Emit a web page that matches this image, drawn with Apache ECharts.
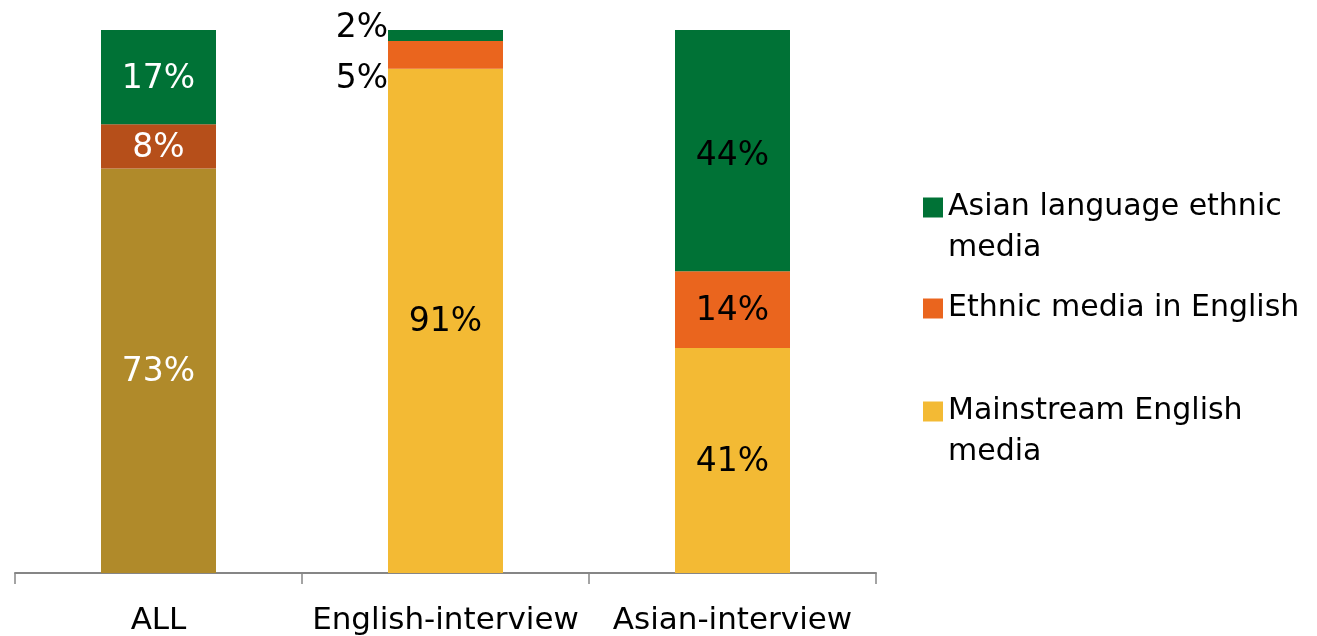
<!DOCTYPE html>
<html>
<head>
<meta charset="utf-8">
<script src="https://cdn.jsdelivr.net/npm/echarts@6/dist/echarts.min.js"></script>
<style>html,body{margin:0;padding:0;background:#fff}#c{width:1317px;height:636px}</style>
</head>
<body>
<div id="c"></div>
<script>
const categories = ['ALL', 'English-interview', 'Asian-interview'];
const mainstream = [73, 91, 41];
const ethnicEnglish = [8, 5, 14];
const asianLanguage = [17, 2, 44];
const seriesNames = ['Asian language ethnic media', 'Ethnic media in English', 'Mainstream English media'];

const FONT = 'DejaVu Sans';
const totals = categories.map((_, i) => mainstream[i] + ethnicEnglish[i] + asianLanguage[i]);
const share = (arr) => arr.map((v, i) => v / totals[i] * 100);

const colors = { green: '#007236', orange: '#EA651E', yellow: '#F3BA34' };
const allColors = { green: '#007236', orange: '#B64F1A', yellow: '#B08A2A' };

function build(raw, key, extra) {
  const s = share(raw);
  return s.map((v, i) => {
    const item = {
      value: v, raw: raw[i],
      itemStyle: { color: i === 0 ? allColors[key] : colors[key] },
      label: { color: i === 0 ? '#fff' : '#000' }
    };
    if (extra && extra[i]) Object.assign(item.label, extra[i]);
    return item;
  });
}

const labelBase = {
  show: true, position: 'inside', fontFamily: FONT, fontSize: 33, offset: [0, 2],
  formatter: p => p.data.raw + '%'
};

const chart = echarts.init(document.getElementById('c'), null, { renderer: 'canvas' });
const barW = 115;
const legendText = { fontFamily: FONT, fontSize: 30, color: '#000', lineHeight: 41 };
const legendCommon = { left: 923, padding: 0, orient: 'vertical', icon: 'rect', itemWidth: 20, itemHeight: 20, itemGap: 10, textStyle: legendText };
chart.setOption({
  animation: false,
  grid: { left: 15, right: 441, top: 30, bottom: 63 },
  xAxis: {
    type: 'category', data: categories,
    axisLine: { lineStyle: { color: '#868686', width: 2 } },
    axisTick: { show: true, interval: 0, length: 11, lineStyle: { color: '#868686', width: 1.5 } },
    axisLabel: { interval: 0, fontFamily: FONT, fontSize: 31, color: '#000', margin: 32 }
  },
  yAxis: { type: 'value', min: 0, max: 100, show: false, splitLine: { show: false } },
  legend: [
    Object.assign({ data: [seriesNames[0]], top: 146, formatter: () => '\nAsian language ethnic\nmedia' }, legendCommon),
    Object.assign({ data: [seriesNames[1]], top: 288, formatter: () => 'Ethnic media in English' }, legendCommon),
    Object.assign({ data: [seriesNames[2]], top: 350, formatter: () => '\nMainstream English\nmedia' }, legendCommon)
  ],
  series: [
    { name: seriesNames[2], type: 'bar', stack: 't', barWidth: barW, label: labelBase,
      itemStyle: { color: colors.yellow },
      data: build(mainstream, 'yellow') },
    { name: seriesNames[1], type: 'bar', stack: 't', barWidth: barW, label: labelBase,
      itemStyle: { color: colors.orange },
      data: build(ethnicEnglish, 'orange', { 1: { position: 'left', distance: 0, offset: [0, 24] } }) },
    { name: seriesNames[0], type: 'bar', stack: 't', barWidth: barW, label: labelBase,
      itemStyle: { color: colors.green },
      data: build(asianLanguage, 'green', { 1: { position: 'left', distance: 0, offset: [0, -7] }, 2: { offset: [0, 6] } }) }
  ]
});
</script>
</body>
</html>
